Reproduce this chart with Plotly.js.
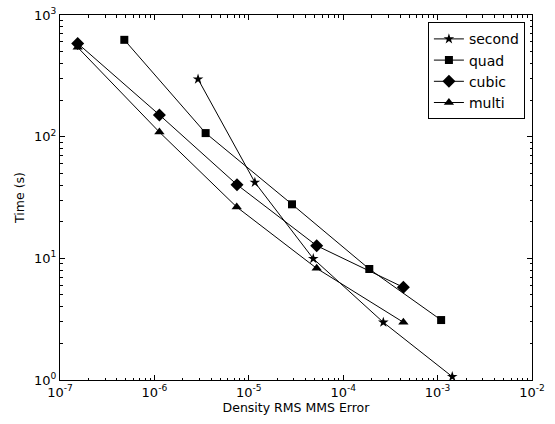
<!DOCTYPE html>
<html><head><meta charset="utf-8">
<script src="https://cdn.plot.ly/plotly-3.0.1.min.js"></script>
<style>html,body{margin:0;padding:0;background:#fff}#chart{width:555px;height:424px}</style>
</head><body><div id="chart"></div>
<script>
const seriesNames = ["second", "quad", "cubic", "multi"];
const symbols = ["star", "square", "diamond", "triangle-up"];
const secondX = [2.9e-6, 1.16e-5, 4.82e-5, 2.66e-4, 1.43e-3];
const secondY = [297, 42.1, 9.93, 2.98, 1.065];
const quadX = [4.8e-7, 3.49e-6, 2.87e-5, 1.89e-4, 1.09e-3];
const quadY = [625, 107, 27.8, 8.17, 3.11];
const cubicX = [1.54e-7, 1.13e-6, 7.5e-6, 5.24e-5, 4.34e-4];
const cubicY = [584, 151, 40.3, 12.7, 5.78];
const multiX = [1.54e-7, 1.13e-6, 7.45e-6, 5.24e-5, 4.34e-4];
const multiY = [542, 109, 26.4, 8.27, 2.98];
const xTickVals = [1e-7, 1e-6, 1e-5, 1e-4, 1e-3, 1e-2];
const xTickText = ["10<sup>-7</sup>", "10<sup>-6</sup>", "10<sup>-5</sup>", "10<sup>-4</sup>", "10<sup>-3</sup>", "10<sup>-2</sup>"];
const yTickVals = [1, 10, 100, 1000];
const yTickText = ["10<sup>0</sup>", "10<sup>1</sup>", "10<sup>2</sup>", "10<sup>3</sup>"];

const xs = [secondX, quadX, cubicX, multiX];
const ys = [secondY, quadY, cubicY, multiY];
const sizes = [8, 8, 10, 9];

const traces = seriesNames.map((n, i) => ({
  x: xs[i], y: ys[i], name: n, type: 'scatter', mode: 'lines+markers',
  line: {color: '#000', width: 1},
  marker: {symbol: symbols[i], color: '#000', size: sizes[i]}
}));

const axisCommon = {
  type: 'log', showgrid: false, zeroline: false,
  showline: true, linecolor: '#000', linewidth: 1, mirror: 'allticks',
  ticks: 'inside', ticklen: 5, tickcolor: '#000', tickmode: 'array',
  minor: {ticks: 'inside', ticklen: 2.5, tickcolor: '#000', dtick: 'D1', showgrid: false},
  tickfont: {family: 'DejaVu Sans', size: 13, color: '#000'}
};

const layout = {
  width: 555, height: 424,
  margin: {l: 60, r: 23, t: 15, b: 44},
  paper_bgcolor: '#fff', plot_bgcolor: '#fff',
  font: {family: 'DejaVu Sans', color: '#000'},
  xaxis: Object.assign({}, axisCommon, {range: [-7, -2], tickvals: xTickVals, ticktext: xTickText,
    title: {text: 'Density RMS MMS Error', font: {size: 12.5}, standoff: 3}}),
  yaxis: Object.assign({}, axisCommon, {range: [0, 3], tickvals: yTickVals, ticktext: yTickText,
    title: {text: 'Time (s)', font: {size: 12.5}, standoff: 6}}),
  legend: {x: 0.985, y: 0.98, xanchor: 'right', yanchor: 'top',
    bordercolor: '#000', borderwidth: 1, bgcolor: '#fff',
    font: {family: 'DejaVu Sans', size: 14}, tracegroupgap: 0, itemwidth: 30},
  showlegend: true
};

Plotly.newPlot('chart', traces, layout, {displayModeBar: false, staticPlot: true});
</script></body></html>
